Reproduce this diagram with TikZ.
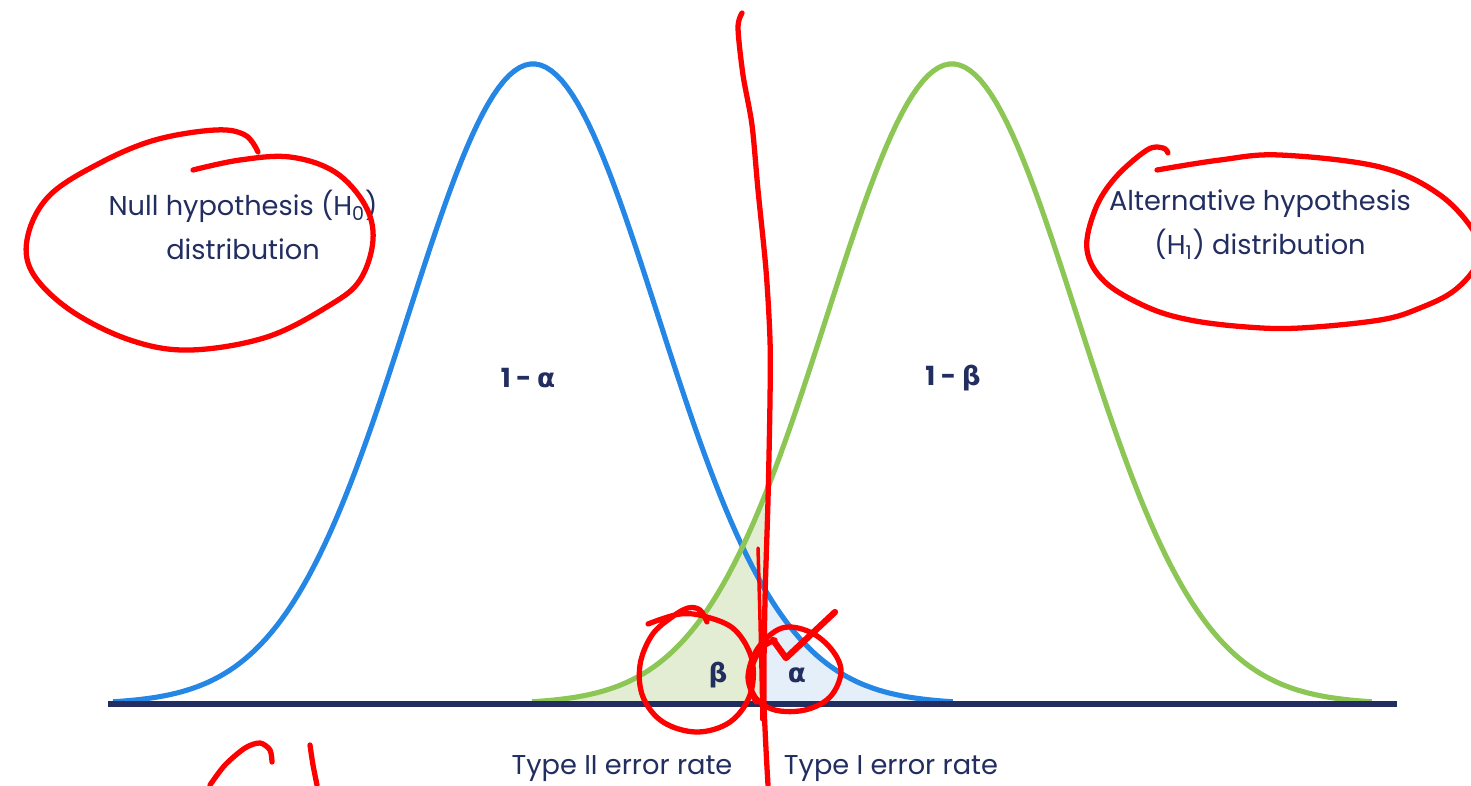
\documentclass[tikz,border=0pt]{standalone}
\usepackage{fontspec}
\setmainfont{Poppins}
\newfontfamily\greekfont{DejaVu Sans}
\usepackage{tikz}
\usetikzlibrary{positioning,calc}
\definecolor{hzblue}{RGB}{36,134,229}
\definecolor{hogreen}{RGB}{140,198,85}
\definecolor{hnavy}{RGB}{34,45,96}
\definecolor{betafill}{RGB}{226,237,212}
\definecolor{alphafill}{RGB}{228,239,250}
\definecolor{markred}{RGB}{255,0,0}
\tikzset{
  declare function={gauss(\z)=640*exp(-0.5*(\z)*(\z));},
  nullcurve/.style={draw=hzblue, line width=2.9pt},
  altcurve/.style={draw=hogreen, line width=2.9pt},
  axisline/.style={draw=hnavy, line width=2.9pt},
  betaarea/.style={fill=betafill},
  alphaarea/.style={fill=alphafill},
  distlabel/.style={align=center, text=hnavy,
    font=\fontsize{15.5}{24}\selectfont},
  arealabel/.style={text=hnavy, font=\fontsize{15}{18}\selectfont\bfseries},
  ratelabel/.style={text=hnavy, font=\fontsize{15.5}{18}\selectfont},
  redink/.style={draw=markred, line width=3pt, line cap=round, line join=round}
}

\begin{document}
\begin{tikzpicture}[x=0.02cm, y=-0.02cm]
  \useasboundingbox (0,0) rectangle (1471,785);

  % Error areas
  \fill[betaarea] (532,704)
    -- plot[domain=-3.36:-1.496, samples=60] ({952+125*(\x)},{704-gauss(\x)})
    -- (765,704) -- cycle;
  \fill[alphaarea] (765,704)
    -- plot[domain=1.856:3.36, samples=60] ({533+125*(\x)},{704-gauss(\x)})
    -- (953,704) -- cycle;

  % Distributions
  \draw[nullcurve] plot[domain=-3.36:3.36, samples=160] ({533+125*(\x)},{704-gauss(\x)});
  \draw[altcurve] plot[domain=-3.36:3.36, samples=160] ({952+125*(\x)},{704-gauss(\x)});
  \draw[axisline] (108,704) -- (1397,704);

  % Labels
  \node[distlabel] (h0label) at (243,225) {Null hypothesis (H\textsubscript{0})\\[1pt]distribution};
  \node[distlabel] (h1label) at (1260,225) {Alternative hypothesis\\[1pt](H\textsubscript{1}) distribution};
  \node[arealabel] (onealpha) at (528,378) {1 - {\greekfont α}};
  \node[arealabel] (onebeta) at (953,378) {1 - {\greekfont β}};
  \node[arealabel] (betalabel) at (718,675) {\greekfont β};
  \node[arealabel] (alphalabel) at (797,675) {\greekfont α};
  \node[ratelabel] (type2label) at (622,769) {Type II error rate};
  \node[ratelabel] (type1label) at (891,769) {Type I error rate};

  % Hand marks
  \draw[redink] plot[smooth, tension=0.6] coordinates {(193,170) (240,160) (290,157) (335,172)
    (365,205) (373,240) (360,280) (330,305) (267,337) (190,350) (130,340) (70,310) (32,272)
    (28,235) (50,195) (100,163) (155,140) (215,130) (245,135) (258,152)};
  \draw[redink] plot[smooth, tension=0.6] coordinates {(1157,170) (1220,160) (1280,155)
    (1380,167) (1440,195) (1476,235) (1478,262) (1455,290) (1420,308) (1380,320) (1300,328)
    (1247,327) (1190,320) (1147,307) (1105,282) (1087,250) (1095,210) (1115,178) (1147,150)
    (1163,148) (1168,153)};
  \draw[redink] plot[smooth, tension=0.5] coordinates {(742,13) (738,28) (743,75) (752,125)
    (758,190) (766,270) (770,340) (770,400) (768,500) (765,600) (764,700) (768,785)};
  \draw[redink, line width=2pt] plot[smooth] coordinates {(758,548) (760,620) (762,720)};
  \draw[redink] plot[smooth, tension=0.6] coordinates {(648,624) (680,614) (707,617) (735,630)
    (752,660) (750,695) (730,722) (697,732) (663,722) (643,697) (640,665) (652,635) (672,617)
    (688,608) (700,610) (707,622)};
  \draw[redink] plot[smooth, tension=0.6] coordinates {(756,702) (748,677) (758,648) (782,628)
    (810,632) (832,650) (841,672) (830,697) (805,710) (775,710) (755,697) (750,675) (760,650)
    (775,640)};
  \draw[redink, line width=3.6pt] (773,640) -- (786,658) -- (835,612);
  \draw[redink] plot[smooth] coordinates {(210,785) (225,765) (245,748) (260,743) (270,750) (272,762)};
  \draw[redink] plot[smooth] coordinates {(310,745) (313,765) (317,785)};
\end{tikzpicture}
\end{document}
